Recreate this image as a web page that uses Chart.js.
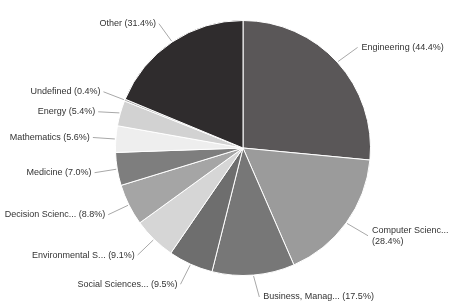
<!DOCTYPE html>
<html>
<head>
<meta charset="utf-8">
<script src="https://cdn.jsdelivr.net/npm/chart.js@4.4.0/dist/chart.umd.min.js"></script>
<style>
html,body{margin:0;padding:0;background:#fff;}
#wrap{width:452px;height:307px;}
</style>
</head>
<body>
<div id="wrap"><canvas id="c" width="452" height="307"></canvas></div>
<script>
const categories = ["Engineering", "Computer Scienc...", "Business, Manag...", "Social Sciences...", "Environmental S...", "Decision Scienc...", "Medicine", "Mathematics", "Energy", "Undefined", "Other"];
const percentages = [44.4, 28.4, 17.5, 9.5, 9.1, 8.8, 7.0, 5.6, 5.4, 0.4, 31.4];
const sliceColors = ["#5a5758", "#9b9b9b", "#777777", "#6e6e6e", "#d6d6d6", "#a5a5a5", "#7e7e7e", "#eeeeee", "#d2d2d2", "#a0a0a0", "#2f2c2d"];

const labelPlugin = {
  id: 'outLabels',
  afterDatasetsDraw(chart) {
    const ctx = chart.ctx;
    const meta = chart.getDatasetMeta(0);
    const font = '9px "Liberation Sans", Arial, sans-serif';
    ctx.save();
    ctx.font = font;
    const items = [];
    meta.data.forEach((arc, i) => {
      const p = arc.getProps(['x','y','startAngle','endAngle','outerRadius'], true);
      const mid = (p.startAngle + p.endAngle) / 2;
      const cos = Math.cos(mid), sin = Math.sin(mid);
      const right = cos >= 0;
      const ex = p.x + cos * (p.outerRadius + 1), ey = p.y + sin * (p.outerRadius + 1);
      const ax = p.x + cos * (p.outerRadius + 22), ay = p.y + sin * (p.outerRadius + 22);
      items.push({i, right, ex, ey, ax, ay, text: categories[i] + ' (' + percentages[i].toFixed(1) + '%)', name: categories[i], pct: '(' + percentages[i].toFixed(1) + '%)'});
    });
    // resolve overlap per side
    [true, false].forEach(side => {
      const arr = items.filter(it => it.right === side).sort((a,b) => a.ay - b.ay);
      for (let k = 1; k < arr.length; k++) {
        if (arr[k].ay - arr[k-1].ay < 20) arr[k].ay = arr[k-1].ay + 20;
      }
    });
    items.forEach(it => {
      let lines = [it.text];
      let tx;
      if (it.right) {
        tx = it.ax + 8;
        if (tx + ctx.measureText(it.text).width > chart.width - 4) lines = [it.name, it.pct];
      } else {
        tx = it.ax - 4;
      }
      // connector
      ctx.strokeStyle = '#a8a8a8';
      ctx.lineWidth = 1;
      ctx.beginPath();
      ctx.moveTo(it.ex, it.ey);
      ctx.lineTo(it.right ? tx - 4 : tx + 3, it.ay);
      ctx.stroke();
      ctx.fillStyle = '#333333';
      ctx.textAlign = it.right ? 'left' : 'right';
      ctx.textBaseline = 'middle';
      const lh = 11;
      const y0 = it.ay - (lines.length - 1) * lh / 2;
      lines.forEach((ln, k) => ctx.fillText(ln, tx, y0 + k * lh));
    });
    ctx.restore();
  }
};

new Chart(document.getElementById('c'), {
  type: 'pie',
  data: {
    labels: categories,
    datasets: [{
      data: percentages,
      backgroundColor: sliceColors,
      borderColor: '#ffffff',
      borderWidth: 1
    }]
  },
  options: {
    responsive: false,
    animation: false,
    layout: { padding: { left: 100, right: 66, top: 20, bottom: 31 } },
    plugins: { legend: { display: false }, tooltip: { enabled: false } }
  },
  plugins: [labelPlugin]
});
</script>
</body>
</html>
